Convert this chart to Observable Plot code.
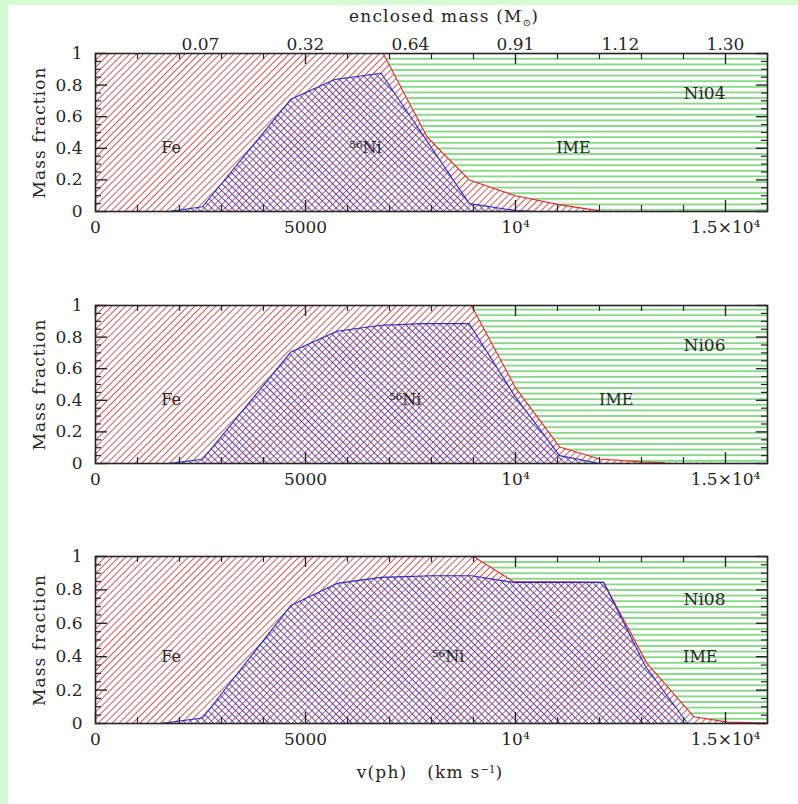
<!DOCTYPE html>
<html><head><meta charset="utf-8">
<script src="https://cdn.jsdelivr.net/npm/d3@7"></script>
<script src="https://cdn.jsdelivr.net/npm/@observablehq/plot@0.6"></script>
<style>
html,body{margin:0;padding:0;background:#d5fbd5;}
#page{position:relative;width:798px;height:804px;overflow:hidden;}
#sheet{position:absolute;left:8px;top:5px;right:0;bottom:0;background:#fff;}
.panel{position:absolute;left:0;}
.htext{position:absolute;font-family:"DejaVu Serif",serif;font-size:17px;color:#262626;white-space:nowrap;transform:translate(-50%,-50%);letter-spacing:1.2px;}
.htext sub{font-size:60%;vertical-align:-0.35em;line-height:0;letter-spacing:0;}
.htext sup{font-size:60%;vertical-align:0.5em;line-height:0;letter-spacing:0;}
</style></head><body>
<div id="page"><div id="sheet"></div></div>
<script>
// ---- axes ----
const xDomain = [0, 16000];
const xMajor = [0, 5000, 10000, 15000];
const xMajorLabels = ["0", "5000", "10⁴", "1.5×10⁴"];
const xMinor = d3.range(0, 16001, 1000).filter(d => d % 5000 !== 0);
const yMajor = [0, 0.2, 0.4, 0.6, 0.8, 1];
const yMajorLabels = ["0", "0.2", "0.4", "0.6", "0.8", "1"];
const yMinor = d3.range(1, 20).map(k => k / 20).filter(d => Math.round(d * 20) % 4 !== 0);
const massV = [2500, 5000, 7500, 10000, 12500, 15000];
const massLabels = ["0.07", "0.32", "0.64", "0.91", "1.12", "1.30"];

// ---- models ----
const models = ["Ni04", "Ni06", "Ni08"];
// 56Ni mass fraction (blue)
const niV1 = [1750, 2550, 4650, 5700, 6800, 8900, 10000, 10500];
const ni1  = [0, 0.03, 0.71, 0.835, 0.875, 0.05, 0.006, 0];
const niV2 = [1750, 2550, 4650, 5750, 6800, 7800, 8900, 10000, 11050, 12000];
const ni2  = [0, 0.027, 0.705, 0.837, 0.875, 0.885, 0.885, 0.42, 0.05, 0];
const niV3 = [1550, 2550, 4650, 5750, 6800, 8000, 8950, 9950, 12100, 13100, 14100];
const ni3  = [0, 0.033, 0.706, 0.839, 0.875, 0.885, 0.885, 0.845, 0.845, 0.34, 0];
// Fe + 56Ni cumulative fraction (red boundary with IME)
const totV1 = [0, 6850, 7900, 8900, 10000, 11000, 12000];
const tot1  = [1, 1, 0.47, 0.2, 0.1, 0.045, 0.004];
const totV2 = [0, 8950, 10000, 11050, 12000, 13000, 13550];
const tot2  = [1, 1, 0.48, 0.105, 0.028, 0.01, 0.005];
const totV3 = [0, 9000, 9950, 12100, 13130, 14250, 15050, 16000];
const tot3  = [1, 1, 0.85, 0.845, 0.36, 0.04, 0.008, 0.003];

const labelNames = ["Fe", "⁵⁶Ni", "IME"];
const labelV1 = [1800, 6430, 11380];
const labelV2 = [1800, 7380, 12400];
const labelV3 = [1800, 8400, 14400];
const labelF = [0.4, 0.4, 0.4];
const modelV = 14500;
const modelF = 0.745;

const niV = [niV1, niV2, niV3], niF = [ni1, ni2, ni3];
const totV = [totV1, totV2, totV3], totF = [tot1, tot2, tot3];
const labelV = [labelV1, labelV2, labelV3];

const layout = [
  {top: 0, mt: 53, ph: 158, mb: 37},
  {top: 262, mt: 43, ph: 158, mb: 37},
  {top: 520, mt: 36, ph: 167, mb: 40}
];

const W = 798, mL = 95, mR = 31, PW = W - mL - mR;
const ink = "#262626";
const fmtX = new Map(xMajor.map((d, k) => [d, xMajorLabels[k]]));
const fmtY = new Map(yMajor.map((d, k) => [d, yMajorLabels[k]]));
const fmtM = new Map(massV.map((d, k) => [d, massLabels[k]]));

function panel(i) {
  const L = layout[i];
  const H = L.mt + L.ph + L.mb;
  const ni = niV[i].map((v, k) => ({v, f: niF[i][k]}));
  const tot = totV[i].map((v, k) => ({v, f: totF[i][k]}));
  const last = tot[tot.length - 1];
  const totArea = last.v < xDomain[1] ? tot.concat([{v: xDomain[1], f: 0}]) : tot;
  const labels = labelNames.map((t, k) => ({t, v: labelV[i][k], f: labelF[k]}));
  const marks = [
    Plot.areaY(totArea, {x: "v", y1: 0, y2: "f", fill: `url(#fe${i})`}),
    Plot.areaY(totArea, {x: "v", y1: "f", y2: 1, fill: `url(#ime${i})`}),
    Plot.areaY(ni, {x: "v", y1: 0, y2: "f", fill: `url(#ni${i})`}),
    Plot.line(tot, {x: "v", y: "f", stroke: "#dd2a2a", strokeWidth: 1.1}),
    Plot.line(ni, {x: "v", y: "f", stroke: "#2a2acc", strokeWidth: 1.1}),
    // inward ticks
    Plot.tickX(xMajor, {x: d => d, insetTop: L.ph - 11, stroke: ink, strokeWidth: 1.4}),
    Plot.tickX(xMajor, {x: d => d, insetBottom: L.ph - 11, stroke: ink, strokeWidth: 1.4}),
    Plot.tickX(xMinor, {x: d => d, insetTop: L.ph - 6, stroke: ink, strokeWidth: 1.2}),
    Plot.tickX(xMinor, {x: d => d, insetBottom: L.ph - 6, stroke: ink, strokeWidth: 1.2}),
    Plot.tickY(yMajor, {y: d => d, insetRight: PW - 12, stroke: ink, strokeWidth: 1.4}),
    Plot.tickY(yMajor, {y: d => d, insetLeft: PW - 11, stroke: ink, strokeWidth: 1.4}),
    Plot.tickY(yMinor, {y: d => d, insetRight: PW - 6, stroke: ink, strokeWidth: 1.2}),
    Plot.tickY(yMinor, {y: d => d, insetLeft: PW - 6, stroke: ink, strokeWidth: 1.2}),
    Plot.frame({stroke: ink, strokeWidth: 1.6}),
    Plot.axisX(xMajor, {tickSize: 0, tickPadding: 9, tickFormat: d => fmtX.get(d), label: null, fill: ink}),
    Plot.axisY(yMajor, {tickSize: 0, tickPadding: 13, tickFormat: d => fmtY.get(d), label: null, fill: ink}),
    Plot.text(labels, {x: "v", y: "f", text: "t", fontSize: 16, fill: ink}),
    Plot.text([models[i]], {x: modelV, y: modelF, text: d => d, fontSize: 17, fill: ink}),
    Plot.text(["Mass fraction"], {frameAnchor: "left", textAnchor: "middle", lineAnchor: "middle", rotate: -90, dx: -56, fontSize: 17, fill: ink})
  ];
  if (i === 0) {
    marks.push(Plot.axisX(massV, {anchor: "top", tickSize: 0, tickPadding: 4, tickFormat: d => fmtM.get(d), label: null, fill: ink}));
  }
  const svg = Plot.plot({
    width: W, height: H,
    marginLeft: mL, marginRight: mR, marginTop: L.mt, marginBottom: L.mb,
    x: {domain: xDomain, label: null},
    y: {domain: [0, 1], label: null},
    style: {fontFamily: '"DejaVu Serif", serif', fontSize: "17px", background: "transparent", color: ink, overflow: "visible"},
    marks
  });
  d3.select(svg).selectAll("text")
    .filter(function() { return this.textContent === "Mass fraction"; })
    .style("letter-spacing", "1.1px");
  const defs = d3.select(svg).insert("defs", ":first-child");
  function hatch(id, angle, spacing, color, w) {
    const p = defs.append("pattern").attr("id", id)
      .attr("patternUnits", "userSpaceOnUse")
      .attr("width", 20).attr("height", spacing)
      .attr("patternTransform", `rotate(${angle})`);
    p.append("line").attr("x1", 0).attr("x2", 20)
      .attr("y1", spacing / 2).attr("y2", spacing / 2)
      .attr("stroke", color).attr("stroke-width", w);
  }
  hatch(`fe${i}`, -45, 4.9, "#cc4545", 0.9);
  hatch(`ni${i}`, 45, 4.9, "#3b3bcc", 0.9);
  hatch(`ime${i}`, 0, 5.6, "#5ccf5c", 1.4);
  svg.classList.add("panel");
  svg.style.top = L.top + "px";
  document.getElementById("page").appendChild(svg);
}
[0, 1, 2].forEach(panel);

function htext(html, x, y) {
  const d = document.createElement("div");
  d.className = "htext";
  d.innerHTML = html;
  d.style.left = x + "px";
  d.style.top = y + "px";
  document.getElementById("page").appendChild(d);
}
htext("enclosed mass (M<sub>⊙</sub>)", 444, 16);
htext("v(ph)&nbsp;&nbsp;&nbsp;(km s<sup>−1</sup>)", 430, 772);
</script>
</body></html>
